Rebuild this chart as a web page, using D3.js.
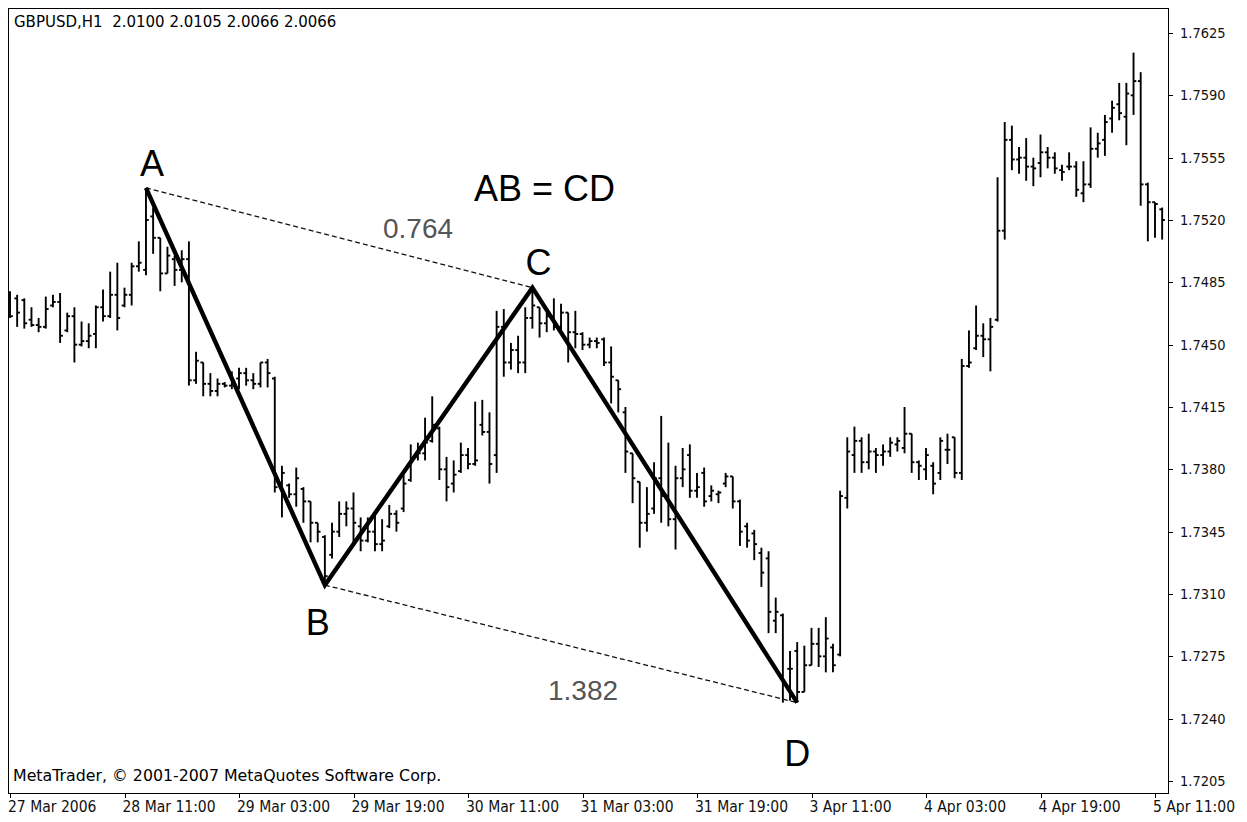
<!DOCTYPE html>
<html>
<head>
<meta charset="utf-8">
<script src="https://cdn.jsdelivr.net/npm/d3@7"></script>
<style>
  body { margin: 0; background: #fff; }
  svg { display: block; }
  .mt { font-family: "DejaVu Sans Condensed", "DejaVu Sans", sans-serif; font-stretch: condensed; }
  .mtw { font-family: "DejaVu Sans", sans-serif; }
  .big { font-family: "Liberation Sans", Arial, sans-serif; }
</style>
</head>
<body>
<svg id="chart" width="1247" height="822"></svg>
<script>
// GBPUSD H1 bars, 27 Mar 2006 19:00 onward
const opens = [
  1.7478,1.7476,1.7475,1.7464,1.7461,1.7460,1.7472,1.7474,1.7458,1.7466,
  1.7450,1.7452,1.7456,1.7471,1.7466,1.7478,1.7472,1.7478,1.7494,1.7492,
  1.7522,1.7510,1.7490,1.7498,1.7492,1.7498,1.7430,1.7440,1.7428,1.7424,
  1.7428,1.7427,1.7431,1.7434,1.7430,1.7428,1.7440,1.7431,1.7372,1.7371,
  1.7366,1.7369,1.7362,1.7350,1.7342,1.7332,1.7345,1.7355,1.7358,1.7348,
  1.7340,1.7345,1.7338,1.7348,1.7355,1.7358,1.7374,1.7387,1.7389,1.7396,
  1.7403,1.7380,1.7372,1.7379,1.7388,1.7383,1.7405,1.7401,1.7388,1.7460,
  1.7440,1.7447,1.7440,1.7465,1.7471,1.7462,1.7466,1.7460,1.7468,1.7457,
  1.7456,1.7450,1.7452,1.7453,1.7440,1.7430,1.7412,1.7389,1.7373,1.7350,
  1.7358,1.7375,1.7365,1.7352,1.7375,1.7388,1.7368,1.7378,1.7365,1.7366,
  1.7372,1.7376,1.7362,1.7348,1.7344,1.7333,1.7330,1.7295,1.7298,1.7268,
  1.7278,1.7255,1.7270,1.7282,1.7275,1.7280,1.7276,1.7364,1.7388,1.7396,
  1.7384,1.7390,1.7388,1.7390,1.7394,1.7392,1.7400,1.7384,1.7380,1.7382,
  1.7378,1.7391,1.7398,1.7378,1.7438,1.7448,1.7455,1.7453,1.7464,1.7514,
  1.7565,1.7554,1.7555,1.7550,1.7552,1.7558,1.7555,1.7548,1.7550,1.7550,
  1.7535,1.7540,1.7560,1.7565,1.7577,1.7585,1.7578,1.7590,1.7598,1.7540,
  1.7530,1.7526
];
const highs = [
  1.7480,1.7478,1.7476,1.7471,1.7465,1.7477,1.7478,1.7479,1.7468,1.7471,
  1.7463,1.7462,1.7472,1.7481,1.7491,1.7496,1.7482,1.7496,1.7508,1.7538,
  1.7527,1.7510,1.7505,1.7500,1.7503,1.7508,1.7446,1.7440,1.7434,1.7431,
  1.7429,1.7435,1.7437,1.7437,1.7434,1.7440,1.7442,1.7432,1.7382,1.7372,
  1.7381,1.7370,1.7362,1.7350,1.7343,1.7350,1.7362,1.7362,1.7367,1.7353,
  1.7353,1.7355,1.7352,1.7360,1.7357,1.7377,1.7394,1.7395,1.7409,1.7421,
  1.7404,1.7387,1.7385,1.7395,1.7392,1.7418,1.7419,1.7412,1.7469,1.7470,
  1.7451,1.7455,1.7471,1.7482,1.7471,1.7468,1.7476,1.7473,1.7468,1.7469,
  1.7457,1.7454,1.7454,1.7454,1.7449,1.7430,1.7415,1.7389,1.7373,1.7370,
  1.7384,1.7410,1.7395,1.7382,1.7392,1.7394,1.7378,1.7381,1.7371,1.7368,
  1.7378,1.7376,1.7363,1.7350,1.7346,1.7336,1.7334,1.7308,1.7299,1.7278,
  1.7283,1.7281,1.7291,1.7291,1.7297,1.7282,1.7368,1.7398,1.7404,1.7398,
  1.7400,1.7392,1.7394,1.7398,1.7398,1.7415,1.7400,1.7385,1.7392,1.7384,
  1.7398,1.7400,1.7398,1.7442,1.7458,1.7472,1.7462,1.7465,1.7544,1.7575,
  1.7573,1.7561,1.7566,1.7555,1.7568,1.7561,1.7558,1.7551,1.7558,1.7553,
  1.7553,1.7572,1.7569,1.7579,1.7587,1.7597,1.7597,1.7614,1.7603,1.7541,
  1.7530,1.7527
];
const lows = [
  1.7465,1.7460,1.7459,1.7460,1.7457,1.7459,1.7471,1.7451,1.7457,1.7440,
  1.7449,1.7448,1.7448,1.7463,1.7465,1.7458,1.7471,1.7472,1.7491,1.7489,
  1.7501,1.7480,1.7490,1.7483,1.7485,1.7427,1.7428,1.7421,1.7421,1.7421,
  1.7426,1.7425,1.7425,1.7427,1.7425,1.7426,1.7426,1.7367,1.7353,1.7364,
  1.7359,1.7350,1.7339,1.7339,1.7315,1.7330,1.7342,1.7348,1.7339,1.7334,
  1.7339,1.7334,1.7334,1.7347,1.7345,1.7356,1.7373,1.7385,1.7385,1.7395,
  1.7374,1.7362,1.7367,1.7378,1.7380,1.7382,1.7399,1.7372,1.7378,1.7432,
  1.7436,1.7434,1.7434,1.7459,1.7454,1.7457,1.7458,1.7457,1.7440,1.7448,
  1.7447,1.7448,1.7448,1.7438,1.7417,1.7412,1.7378,1.7361,1.7336,1.7345,
  1.7355,1.7350,1.7348,1.7335,1.7370,1.7364,1.7364,1.7359,1.7362,1.7361,
  1.7370,1.7358,1.7337,1.7336,1.7329,1.7314,1.7288,1.7288,1.7249,1.7250,
  1.7249,1.7255,1.7270,1.7269,1.7266,1.7266,1.7275,1.7358,1.7378,1.7378,
  1.7380,1.7378,1.7382,1.7387,1.7390,1.7389,1.7378,1.7374,1.7374,1.7366,
  1.7374,1.7383,1.7375,1.7374,1.7437,1.7447,1.7443,1.7435,1.7463,1.7509,
  1.7548,1.7546,1.7542,1.7539,1.7544,1.7549,1.7546,1.7542,1.7548,1.7533,
  1.7530,1.7538,1.7555,1.7556,1.7569,1.7576,1.7562,1.7579,1.7528,1.7508,
  1.7510,1.7509
];
const closes = [
  1.7466,1.7468,1.7462,1.7461,1.7460,1.7470,1.7474,1.7455,1.7466,1.7450,
  1.7452,1.7455,1.7471,1.7466,1.7478,1.7465,1.7478,1.7494,1.7496,1.7520,
  1.7510,1.7490,1.7500,1.7492,1.7498,1.7430,1.7441,1.7428,1.7424,1.7428,
  1.7427,1.7430,1.7434,1.7430,1.7428,1.7440,1.7434,1.7370,1.7378,1.7366,
  1.7375,1.7362,1.7350,1.7345,1.7320,1.7345,1.7355,1.7358,1.7350,1.7340,
  1.7345,1.7338,1.7340,1.7355,1.7350,1.7372,1.7385,1.7389,1.7395,1.7405,
  1.7380,1.7370,1.7377,1.7388,1.7383,1.7385,1.7401,1.7383,1.7460,1.7440,
  1.7447,1.7440,1.7465,1.7472,1.7462,1.7466,1.7460,1.7468,1.7457,1.7456,
  1.7450,1.7452,1.7451,1.7440,1.7432,1.7425,1.7390,1.7375,1.7350,1.7355,
  1.7375,1.7365,1.7352,1.7375,1.7380,1.7368,1.7370,1.7362,1.7368,1.7367,
  1.7376,1.7362,1.7345,1.7340,1.7338,1.7322,1.7300,1.7300,1.7260,1.7268,
  1.7255,1.7270,1.7282,1.7275,1.7285,1.7270,1.7365,1.7390,1.7396,1.7384,
  1.7390,1.7388,1.7390,1.7395,1.7396,1.7400,1.7384,1.7382,1.7388,1.7372,
  1.7396,1.7391,1.7378,1.7438,1.7440,1.7455,1.7453,1.7460,1.7514,1.7565,
  1.7554,1.7555,1.7550,1.7549,1.7558,1.7555,1.7549,1.7547,1.7550,1.7537,
  1.7540,1.7560,1.7563,1.7575,1.7583,1.7580,1.7591,1.7598,1.7540,1.7530,
  1.7529,1.7520
];

// time axis: one label every 16 bars
const timeLabels = ["27 Mar 2006","28 Mar 11:00","29 Mar 03:00","29 Mar 19:00","30 Mar 11:00",
  "31 Mar 03:00","31 Mar 19:00","3 Apr 11:00","4 Apr 03:00","4 Apr 19:00","5 Apr 11:00"];
const labelStep = 16;
const priceTicks = [1.7205,1.7240,1.7275,1.7310,1.7345,1.7380,1.7415,1.7450,1.7485,1.7520,1.7555,1.7590,1.7625];

// AB = CD swing points
const pivotNames = ["A","B","C","D"];
const pivotBars = [19, 44, 73, 110];
const pivotSides = ["high","low","high","low"];
const ratioTexts = ["0.764","1.382"];

const headerText = "GBPUSD,H1  2.0100 2.0105 2.0066 2.0066";
const footerText = "MetaTrader, \u00A9 2001-2007 MetaQuotes Software Corp.";
const patternTitle = "AB = CD";

const svg = d3.select("#chart");
const frame = { left: 8, top: 8, right: 1168, bottom: 793 };

const x = d3.scaleLinear().domain([0, (timeLabels.length - 1) * labelStep]).range([10, 1155]);
const y = d3.scaleLinear().domain([1.7205, 1.7625]).range([781, 33]);

svg.append("rect").attr("width", 1247).attr("height", 822).attr("fill", "#fff");

const bars = d3.range(opens.length).map(i => ({ i, o: opens[i], h: highs[i], l: lows[i], c: closes[i] }));

// clip bars to the plotting frame
svg.append("clipPath").attr("id", "plotClip")
  .append("rect").attr("x", frame.left).attr("y", frame.top)
  .attr("width", frame.right - frame.left).attr("height", frame.bottom - frame.top);

const plot = svg.append("g").attr("clip-path", "url(#plotClip)");

const barG = plot.append("g").attr("stroke", "#000").attr("stroke-width", 1.9).attr("fill", "none");
barG.selectAll("line.hl").data(bars).join("line")
  .attr("class", "hl")
  .attr("x1", d => x(d.i)).attr("x2", d => x(d.i))
  .attr("y1", d => y(d.h)).attr("y2", d => y(d.l));
barG.selectAll("line.op").data(bars).join("line")
  .attr("class", "op")
  .attr("x1", d => x(d.i) - 2.8).attr("x2", d => x(d.i))
  .attr("y1", d => y(d.o)).attr("y2", d => y(d.o));
barG.selectAll("line.cl").data(bars).join("line")
  .attr("class", "cl")
  .attr("x1", d => x(d.i)).attr("x2", d => x(d.i) + 2.8)
  .attr("y1", d => y(d.c)).attr("y2", d => y(d.c));

// swing points from the bar extremes
const pivots = pivotBars.map((b, k) => ({
  name: pivotNames[k],
  px: x(b),
  py: y(pivotSides[k] === "high" ? highs[b] : lows[b])
}));

// dashed retracement / projection links A-C and B-D
const dashPairs = [[0, 2], [1, 3]];
plot.selectAll("line.ratio").data(dashPairs).join("line")
  .attr("class", "ratio")
  .attr("x1", d => pivots[d[0]].px).attr("y1", d => pivots[d[0]].py)
  .attr("x2", d => pivots[d[1]].px).attr("y2", d => pivots[d[1]].py)
  .attr("stroke", "#111").attr("stroke-width", 1.3).attr("stroke-dasharray", "5,3");

// zigzag A-B-C-D
plot.append("path")
  .attr("d", d3.line().x(d => d.px).y(d => d.py)(pivots))
  .attr("fill", "none").attr("stroke", "#000").attr("stroke-width", 4.4)
  .attr("stroke-linejoin", "miter");

// frame
svg.append("rect")
  .attr("x", frame.left + 0.5).attr("y", frame.top + 0.5)
  .attr("width", frame.right - frame.left).attr("height", frame.bottom - frame.top)
  .attr("fill", "none").attr("stroke", "#000").attr("stroke-width", 1);

// price axis on the right
const yAxis = svg.append("g").attr("class", "mt");
yAxis.selectAll("line").data(priceTicks).join("line")
  .attr("x1", frame.right + 0.5).attr("x2", frame.right + 5)
  .attr("y1", d => Math.round(y(d)) + 0.5).attr("y2", d => Math.round(y(d)) + 0.5)
  .attr("stroke", "#000");
yAxis.selectAll("text").data(priceTicks).join("text")
  .attr("x", 1180).attr("y", d => y(d) + 5)
  .attr("font-size", 14.5).attr("fill", "#111")
  .text(d => d3.format(".4f")(d));

// time axis at the bottom
const xAxis = svg.append("g").attr("class", "mt");
xAxis.selectAll("line").data(timeLabels).join("line")
  .attr("x1", (d, k) => Math.round(x(k * labelStep)) + 0.5)
  .attr("x2", (d, k) => Math.round(x(k * labelStep)) + 0.5)
  .attr("y1", frame.bottom).attr("y2", frame.bottom + 5)
  .attr("stroke", "#000");
xAxis.selectAll("text").data(timeLabels).join("text")
  .attr("x", (d, k) => x(k * labelStep) - 2).attr("y", 812)
  .attr("font-size", 15.5).attr("fill", "#111")
  .text(d => d);

// header and footer captions
svg.append("text").attr("class", "mtw").attr("x", 14).attr("y", 27)
  .attr("font-size", 15).attr("fill", "#000").style("white-space", "pre")
  .text(headerText);
svg.append("text").attr("class", "mtw").attr("x", 13).attr("y", 781)
  .attr("font-size", 15.8).attr("fill", "#000")
  .text(footerText);

// pattern annotations
const nameOffsets = { A: [6, -12], B: [-7, 50], C: [6, -13], D: [0, 63] };
svg.selectAll("text.pivot").data(pivots).join("text")
  .attr("class", "pivot big")
  .attr("x", d => d.px + nameOffsets[d.name][0])
  .attr("y", d => d.py + nameOffsets[d.name][1])
  .attr("text-anchor", "middle").attr("font-size", 36).attr("fill", "#000")
  .text(d => d.name);

svg.append("text").attr("class", "big").attr("x", 474).attr("y", 201)
  .attr("font-size", 36).attr("fill", "#000").text(patternTitle);

const ratioPos = [[418, 238], [583, 700]];
svg.selectAll("text.ratioLabel").data(ratioTexts).join("text")
  .attr("class", "ratioLabel big")
  .attr("x", (d, k) => ratioPos[k][0]).attr("y", (d, k) => ratioPos[k][1])
  .attr("text-anchor", "middle").attr("font-size", 28).attr("fill", "#555")
  .text(d => d);
</script>
</body>
</html>
